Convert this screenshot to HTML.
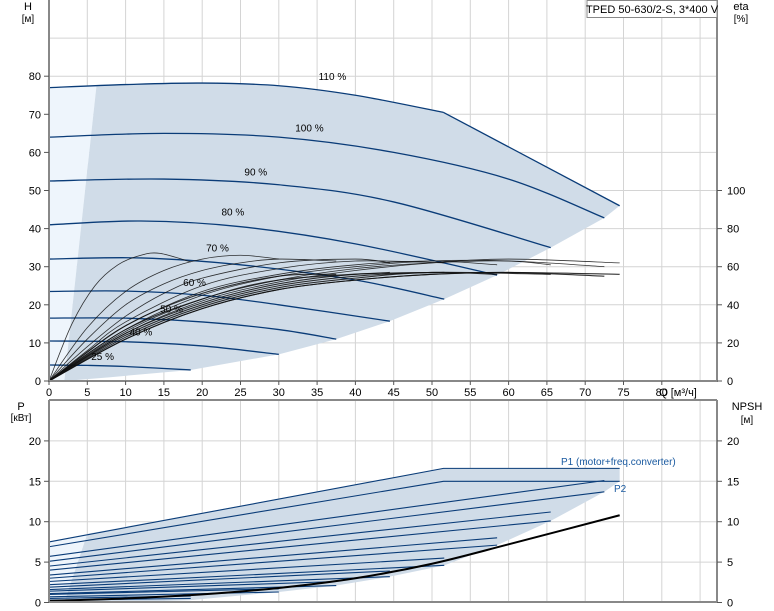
<!DOCTYPE html>
<html><head><meta charset="utf-8"><style>
body{margin:0;background:#fff}
svg{display:block;font-family:"Liberation Sans",sans-serif}
</style></head><body>
<svg id="c" width="774" height="611"></svg>
<script>
const qTicks=[0,5,10,15,20,25,30,35,40,45,50,55,60,65,70,75,80];
const hTicks=[0,10,20,30,40,50,60,70,80];
const etaTicks=[0,20,40,60,80,100];
const pTicks=[0,5,10,15,20];
const speedLabels=["110 %","100 %","90 %","80 %","70 %","60 %","50 %","40 %","25 %"];
const speedQ=[[0,10,20,30,40,51.5],[0,15,30,45,60,72.5],[0,15,30,45,65.5],[0,12,25,40,58.5],[0,12,25,40,51.6],[0,10,20,30,44.5],[0,10,20,30,37.5],[0,10,20,30],[0,5,10,18.5]];
const speedH=[[77,77.8,78.2,77.5,75,70.5],[64,65,64,60,53,42.8],[52.5,53,51.5,47,35],[41,42,40.5,36,27.8],[32,32.3,30.5,26.5,21.5],[23.5,23.6,22.5,20,15.7],[16.5,16.5,15.5,13.5,11],[10.5,10.3,9.2,7],[4.2,4.1,3.8,2.9]];
const labelPos=[[37,79],[34,65.5],[27,54],[24,43.5],[22,34],[19,25],[16,18],[12,12],[7,5.5]];
const envQ=[74.5,72.5,65.5,58.5,51.6,44.5,37.5,30,18.5,8,2];
const envH=[46,42.8,35,27.8,21.5,15.7,11,7,2.9,1,0];
const etaQ=[[0,3,6,9,12,14.5,18.5],[0,5,10,15,20,25,30],[0,5,10,15,20,25,30,37.5],[0,5,10,15,20,30,40,44.5],[0,5,10,20,30,40,51.6],[0,5,10,20,30,40,50,58.5],[0,10,20,30,40,50,60,65.5],[0,10,20,30,40,50,60,72.5],[0,10,20,30,40,50,60,74.5],[0,10,20,30,40,50,60,74.5],[0,10,20,30,40,50,60,72.5],[0,10,20,30,40,50,65.5],[0,10,20,30,40,50,58.5],[0,10,20,30,40,51.6],[0,10,20,30,44.5],[0,10,20,30,37.5]];
const etaV=[[0,30,50,61,66,67,62.5],[0,28,47,58,64,66,64],[0,22,40,51,58,62,64,63],[0,18,34,46,54,62,64,62],[0,16,31,50,59,63,62],[0,15,29,47,56,61,63,61],[0,27,45,55,60,63,63,61],[0,26,43,53,59,62,63,60],[0,25,42,52,58,62,64,62],[0,22,38,48,53,56,57,56],[0,22,38,48,53,56,57,55],[0,23,39,49,54,57,56],[0,24,40,50,55,57,56],[0,25,41,51,56,57],[0,27,43,53,57,55],[0,29,46,55,56]];
const powQ=[[0,51.5,74.5],[0,51.5,74.5],[0,72.5],[0,72.5],[0,65.5],[0,65.5],[0,58.5],[0,58.5],[0,51.6],[0,51.6],[0,44.5],[0,44.5],[0,37.5],[0,37.5],[0,30],[0,30],[0,18.5],[0,18.5]];
const powP=[[7.5,16.6,16.6],[6.9,15,15],[5.7,15.1],[5.1,13.7],[4.5,11.2],[4,10.1],[3.4,8],[3,7.1],[2.6,5.5],[2.2,4.6],[1.9,3.9],[1.6,3.2],[1.4,2.6],[1.1,2.1],[1,1.7],[0.7,1.3],[0.5,0.8],[0.3,0.5]];
const penvQ=[74.5,72.5,65.5,58.5,51.6,44.5,37.5,30,18.5];
const penvP=[15,13.7,10.1,7.1,4.6,3.2,2.1,1.3,0.3];
const npshQ=[0,10,20,30,40,50,60,74.5];
const npshV=[0.2,0.5,1.0,1.8,3.0,4.8,7.2,10.8];

const NS="http://www.w3.org/2000/svg",svg=document.getElementById('c');
const X=q=>49+7.66*q, H=h=>381-3.81*h, E=e=>381-1.905*e, P=p=>602.5-8.08*p;
function el(t,a,name,parent){const e=document.createElementNS(NS,t);for(const k in a)e.setAttribute(k,a[k]);


(parent||svg).appendChild(e);return e;}
function txt(x,y,s,name,anchor,fill,size){const t=el('text',{x:x,y:y,'font-size':size||11,fill:fill||'#000','text-anchor':anchor||'start'},name);t.textContent=s;return t;}
function smooth(pts){let d='M'+pts[0][0]+','+pts[0][1];for(let i=0;i<pts.length-1;i++){const p0=pts[i-1]||pts[i],p1=pts[i],p2=pts[i+1],p3=pts[i+2]||p2;
const c1=[p1[0]+(p2[0]-p0[0])/6,p1[1]+(p2[1]-p0[1])/6],c2=[p2[0]-(p3[0]-p1[0])/6,p2[1]-(p3[1]-p1[1])/6];
d+=' C'+c1+' '+c2+' '+p2;}return d;}
// grids
for(const q of qTicks.concat([85])){if(q===0)continue;
el('line',{x1:X(q),x2:X(q),y1:0,y2:381,stroke:'#d4d4d4'},'grid-v-top');
el('line',{x1:X(q),x2:X(q),y1:400,y2:602,stroke:'#d4d4d4'},'grid-v-bottom');}
for(const h of [10,20,30,40,50,60,70,80,90])el('line',{x1:49,x2:717,y1:H(h),y2:H(h),stroke:'#d4d4d4'},'grid-h-top');
for(const p of [5,10,15,20])el('line',{x1:49,x2:717,y1:P(p),y2:P(p),stroke:'#d4d4d4'},'grid-h-bottom');
// top shaded areas
el('path',{d:'M'+X(0)+','+H(0)+' L'+X(0)+','+H(77)+' L'+X(6.2)+','+H(77.5)+' L'+X(2)+','+H(0)+'Z',fill:'#eef5fc'},'light-region-top');
let d='M'+X(2)+','+H(0)+' L'+X(6.2)+','+H(77.5);
const q0=speedQ[0],h0=speedH[0];for(let i=1;i<q0.length;i++)d+=' L'+X(q0[i])+','+H(h0[i]);
for(let i=0;i<envQ.length;i++)d+=' L'+X(envQ[i])+','+H(envH[i]);
el('path',{d:d+'Z',fill:'#d0dce8'},'operating-region-top');
// speed curves
speedQ.forEach((qs,i)=>{const pts=qs.map((q,j)=>[X(q),H(speedH[i][j])]);
el('path',{d:smooth(pts),fill:'none',stroke:'#0a3c78','stroke-width':1.3},'speed-curve-'+speedLabels[i].replace(' %',''));});
el('line',{x1:X(51.5),y1:H(70.5),x2:X(74.5),y2:H(46),stroke:'#0a3c78','stroke-width':1.3},'max-power-limit');
// eta curves
etaQ.forEach((qs,i)=>{const pts=qs.map((q,j)=>[X(q),E(etaV[i][j])]);
el('path',{d:smooth(pts),fill:'none',stroke:'#111','stroke-width':i<9?0.8:1.1,opacity:0.85},'efficiency-curve');});
speedLabels.forEach((s,i)=>txt(X(labelPos[i][0]),H(labelPos[i][1]),s,'speed-label','middle','#000',10));
// bottom shaded
el('path',{d:'M'+X(0)+','+P(0)+' L'+X(0)+','+P(7.5)+' L'+X(5)+','+P(8.5)+' L'+X(2)+','+P(0)+'Z',fill:'#eef5fc'},'light-region-bottom');
d='M'+X(2)+','+P(0)+' L'+X(5)+','+P(8.5)+' L'+X(51.5)+','+P(16.6)+' L'+X(74.5)+','+P(16.6);
for(let i=0;i<penvQ.length;i++)d+=' L'+X(penvQ[i])+','+P(penvP[i]);
el('path',{d:d+' L'+X(8)+','+P(0)+'Z',fill:'#d0dce8'},'operating-region-bottom');
powQ.forEach((qs,i)=>{const pts=qs.map((q,j)=>X(q)+','+P(powP[i][j])).join(' L');
el('path',{d:'M'+pts,fill:'none',stroke:'#0a3c78','stroke-width':1.1},i%2?'p2-curve':'p1-curve');});
el('path',{d:smooth(npshQ.map((q,i)=>[X(q),P(npshV[i])])),fill:'none',stroke:'#000','stroke-width':2},'npsh-curve');
txt(561,465,'P1 (motor+freq.converter)','p1-label','start','#1a5aa0',10);
txt(614,492,'P2','p2-label','start','#1a5aa0',10);
// frames
el('path',{d:'M49,0 L49,381 L717,381 L717,0',fill:'none',stroke:'#888','stroke-width':2},'top-axis-frame');
el('path',{d:'M49,400 L717,400 M49,400 L49,602 L717,602 L717,400',fill:'none',stroke:'#888','stroke-width':2},'bottom-axis-frame');
// ticks
hTicks.forEach(h=>{el('line',{x1:44,x2:49,y1:H(h),y2:H(h),stroke:'#555'},'h-tick');txt(41,H(h)+4,String(h),'h-tick-label','end');});
etaTicks.forEach(e=>{el('line',{x1:717,x2:722,y1:E(e),y2:E(e),stroke:'#555'},'eta-tick');txt(727,E(e)+4,String(e),'eta-tick-label','start');});
qTicks.forEach(q=>{el('line',{x1:X(q),x2:X(q),y1:381,y2:385,stroke:'#555'},'q-tick');txt(X(q),396,String(q),'q-tick-label','middle');});
pTicks.forEach(p=>{el('line',{x1:44,x2:49,y1:P(p),y2:P(p),stroke:'#555'},'p-tick');txt(41,P(p)+4,String(p),'p-tick-label','end');
el('line',{x1:717,x2:722,y1:P(p),y2:P(p),stroke:'#555'},'npsh-tick');txt(727,P(p)+4,String(p),'npsh-tick-label','start');});
txt(678,396,'Q [м³/ч]','x-axis-title','middle');
txt(28,10,'H','h-axis-title','middle','#000',11);txt(28,22,'[м]','h-axis-unit','middle','#000',10);
txt(741,10,'eta','eta-axis-title','middle','#000',11);txt(741,22,'[%]','eta-axis-unit','middle','#000',10);
txt(21,410,'P','p-axis-title','middle','#000',11);txt(21,421,'[кВт]','p-axis-unit','middle','#000',10);
txt(747,410,'NPSH','npsh-axis-title','middle','#000',11);txt(747,423,'[м]','npsh-axis-unit','middle','#000',10);
el('rect',{x:587,y:0.5,width:130,height:17,fill:'#fff',stroke:'#888'},'title-box');
txt(652,13,'TPED 50-630/2-S, 3*400 V','chart-title','middle','#000',11);
</script>
</body></html>
